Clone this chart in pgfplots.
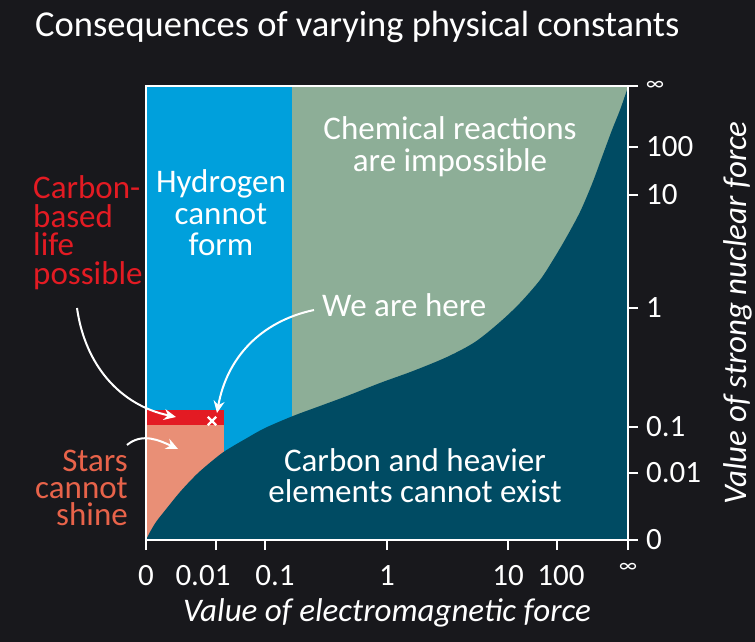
\documentclass[border=0pt]{standalone}
\usepackage{fontspec}
\setmainfont{Carlito}
\usepackage{pgfplots}
\pgfplotsset{compat=1.18}
\usetikzlibrary{arrows.meta}
\definecolor{bgcol}{HTML}{18181C}
\definecolor{hblue}{HTML}{00A0DC}
\definecolor{cgreen}{HTML}{8DAE97}
\definecolor{dteal}{HTML}{004B63}
\definecolor{lred}{HTML}{E31B23}
\definecolor{salmon}{HTML}{E98F76}
\definecolor{coral}{HTML}{E8634A}
\newcommand{\labfont}{\fontsize{33pt}{33pt}\selectfont}
% stacked lines with a fixed baseline distance; baseline of the node = first line
\newcommand{\stackL}[2]{\vtop{\baselineskip=#1\lineskiplimit=-\maxdimen\halign{##\hfil\cr#2\crcr}}}
\newcommand{\stackR}[2]{\vtop{\baselineskip=#1\lineskiplimit=-\maxdimen\halign{\hfil##\cr#2\crcr}}}
\newcommand{\stackC}[2]{\vtop{\baselineskip=#1\lineskiplimit=-\maxdimen\halign{\hfil##\hfil\cr#2\crcr}}}
\newcommand{\infsym}{{\fontsize{21pt}{21pt}\selectfont ∞}}
\begin{document}
\begin{tikzpicture}
\fill[bgcol] (0,0) rectangle (755pt,642pt);
\begin{axis}[
  at={(146pt,102pt)}, anchor=south west,
  width=482pt, height=454pt, scale only axis,
  xmin=146, xmax=628, ymin=86, ymax=540, y dir=reverse,
  axis on top,
  axis line style={white, line width=1.6pt},
  xtick={146,216,265,387,508,557,628},
  xticklabels={0,\makebox[0pt]{0.01\hspace*{26pt}},\makebox[0pt]{\hspace*{20pt}0.1},1,10,\makebox[0pt]{\hspace*{8pt}100},\raisebox{13pt}{\infsym}},
  ytick={86,147,195,308,427,473,540},
  yticklabels={\infsym,100,10,1,0.1,0.01,0},
  tick style={white, line width=1.6pt},
  tick align=outside, major tick length=10pt,
  xtick pos=bottom, ytick pos=right, yticklabel pos=right,
  ticklabel style={white, font=\fontsize{31pt}{31pt}\selectfont, inner sep=0pt},
  yticklabel style={anchor=west, xshift=8pt},
  xticklabel style={anchor=base, yshift=-35pt},
]
\addplot[fill=hblue, draw=none] coordinates {(146,86) (292,86) (292,540) (146,540)} -- cycle;
\addplot[fill=cgreen, draw=none] coordinates {(292,86) (628,86) (628,540) (292,540)} -- cycle;
\addplot[fill=salmon, draw=none] coordinates {(146,425) (224,425) (224,540) (146,540)} -- cycle;
\addplot[fill=lred, draw=none] coordinates {(146,410) (224,410) (224,425) (146,425)} -- cycle;
\addplot[fill=dteal, draw=none, smooth] coordinates {
(146,540) (150,532) (156,522) (163,513) (180,492) (197,474) (212,461) (225,451)
(247,438) (265,428) (293,416) (320,406) (347,396) (380,383) (413,371) (447,357)
(475,342) (500,322) (520,303) (540,280) (553,260) (566,238) (580,212) (592,184)
(602,157) (612,130) (620,110) (628,87)} -- (axis cs:628,540) -- (axis cs:146,540) -- cycle;
\addplot[only marks, mark=x, white, mark size=6pt, line width=2.2pt] coordinates {(212,421)};
\end{axis}
% title
\node[anchor=base west, white, inner sep=0pt, font=\fontsize{36.5pt}{36.5pt}\selectfont] at (35pt,605pt) {Consequences of varying physical constants};
% region labels
\begin{scope}[every node/.style={inner sep=0pt, font=\labfont}]
\node[anchor=base, white] at (221pt,449pt) {\stackC{31.5pt}{Hydrogen\cr cannot\cr form}};
\node[anchor=base, white] at (450pt,502pt) {\stackC{32pt}{Chemical reactions\cr are impossible}};
\node[anchor=base west, white] at (322pt,325pt) {We are here};
\node[anchor=base, white] at (415pt,170pt) {\stackC{31pt}{Carbon and heavier\cr elements cannot exist}};
\node[anchor=base west, lred] at (33pt,443pt) {\stackL{28.5pt}{Carbon-\cr based\cr life\cr possible}};
\node[anchor=base east, coral] at (128pt,170pt) {\stackR{27pt}{Stars\cr cannot\cr shine}};
\node[anchor=base, white, font=\labfont\itshape] at (387pt,20pt) {Value of electromagnetic force};
\node[anchor=base, white, rotate=90, font=\labfont\itshape] at (746pt,329pt) {Value of strong nuclear force};
\end{scope}
% arrows
\begin{scope}[white, line width=2pt, -{Stealth[length=12pt,width=11pt]}]
\draw (77pt,334pt) to[out=-82,in=168] (176pt,225pt);
\draw (127pt,197pt) to[out=40,in=155] (178pt,193pt);
\draw (314pt,332pt) to[out=192,in=80] (217pt,229pt);
\end{scope}
\pgfresetboundingbox
\useasboundingbox (0,0) rectangle (755pt,642pt);
\end{tikzpicture}
\end{document}
